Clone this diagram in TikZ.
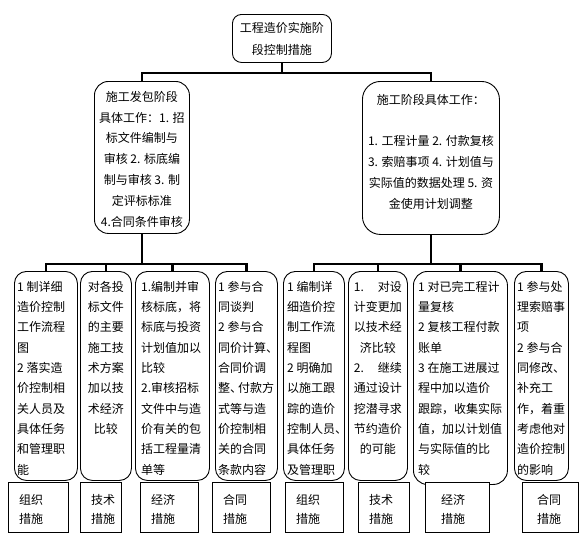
\documentclass[tikz,border=0pt]{standalone}
\usepackage{fontspec}
\setmainfont{Noto Sans CJK SC}
\usetikzlibrary{calc}
\begin{document}
\begin{tikzpicture}[x=1pt,y=-1pt,
  conn/.style={line width=2.8pt, black},
  rbox/.style={draw, line width=0.9pt, rounded corners=12pt, anchor=north west, inner sep=0pt},
  lbox/.style={draw, line width=0.9pt, fill=white, anchor=north west, inner sep=0pt, minimum height=50pt},
  txt/.style={font=\fontsize{12pt}{20.3pt}\selectfont, inner sep=0pt, align=left, anchor=north west},
  ctxt/.style={font=\fontsize{12pt}{20.8pt}\selectfont, inner sep=0pt, align=center, anchor=north},
  ltxt/.style={font=\fontsize{12pt}{19.5pt}\selectfont, inner sep=0pt, align=left, anchor=north west}]
\useasboundingbox (0,0) rectangle (582,539);
\fill[white] (0,0) rectangle (582,539);

% top
\node[rbox, rounded corners=9pt, minimum width=99pt, minimum height=48pt] (top) at (232,14) {};
\node[ctxt, font=\fontsize{12pt}{22pt}\selectfont] (topt) at ($(top.north)+(0,8)$) {工程造价实施阶\\段控制措施};

% middle
\node[rbox, rounded corners=14pt, minimum width=95pt, minimum height=152pt] (mL) at (94,81) {};
\node[ctxt] (mLt) at ($(mL.north)+(0,10)$) {施工发包阶段\\具体工作：1. 招\\标文件编制与\\审核 2. 标底编\\制与审核 3. 制\\定评标标准\\4.合同条件审核};
\node[rbox, rounded corners=18pt, minimum width=137pt, minimum height=153pt] (mR) at (362,81) {};
\node[ctxt] (mRt) at ($(mR.north)+(0,13)$) {施工阶段具体工作：\\[20.8pt]1. 工程计量 2. 付款复核\\3. 索赔事项 4. 计划值与\\实际值的数据处理 5. 资\\金使用计划调整};

% bottom boxes
\node[rbox, minimum width=63pt, minimum height=209pt] (b1) at (14,271) {};
\node[rbox, minimum width=51pt, minimum height=209pt] (b2) at (80,271) {};
\node[rbox, minimum width=74pt, minimum height=209pt] (b3) at (135,271) {};
\node[rbox, minimum width=62pt, minimum height=209pt] (b4) at (215,271) {};
\node[rbox, minimum width=61pt, minimum height=209pt] (b5) at (283,271) {};
\node[rbox, minimum width=59pt, minimum height=209pt] (b6) at (348,271) {};
\node[rbox, rounded corners=14pt, minimum width=94pt, minimum height=213pt] (b7) at (413,271) {};
\node[rbox, minimum width=54pt, minimum height=209pt] (b8) at (514,271) {};

\node[txt] (t1) at ($(b1.north west)+(3,10)$) {1 制详细\\造价控制\\工作流程\\图\\2 落实造\\价控制相\\关人员及\\具体任务\\和管理职\\能};
\node[txt, align=center, anchor=north] (t2) at ($(b2.north)+(0,10)$) {对各投\\标文件\\的主要\\施工技\\术方案\\加以技\\术经济\\比较};
\node[txt] (t3) at ($(b3.north west)+(6,10)$) {1.编制并审\\核标底，将\\标底与投资\\计划值加以\\比较\\2.审核招标\\文件中与造\\价有关的包\\括工程量清\\单等};
\node[txt] (t4) at ($(b4.north west)+(3,10)$) {1 参与合\\同谈判\\2 参与合\\同价计算、\\合同价调\\整、\kern-4pt付款方\\式等与造\\价控制相\\关的合同\\条款内容};
\node[txt] (t5) at ($(b5.north west)+(4,10)$) {1 编制详\\细造价控\\制工作流\\程图\\2 明确加\\以施工跟\\踪的造价\\控制人员、\\具体任务\\及管理职};
\node[txt, align=center, anchor=north, text width=48pt] (t6) at ($(b6.north)+(0,10)$) {\makebox[48pt][s]{1.\hfill 对设}\\计变更加\\以技术经\\济比较\\\makebox[48pt][s]{2.\hfill 继续}\\通过设计\\挖潜寻求\\节约造价\\的可能};
\node[txt] (t7) at ($(b7.north west)+(5,10)$) {1 对已完工程计\\量复核\\2 复核工程付款\\账单\\3 在施工进展过\\程中加以造价\\跟踪，收集实际\\值，加以计划值\\与实际值的比\\较};
\node[txt] (t8) at ($(b8.north west)+(3,10)$) {1 参与处\\理索赔事\\项\\2 参与合\\同修改、\\补充工\\作，着重\\考虑他对\\造价控制\\的影响};

% label boxes
\node[lbox, minimum width=60pt] (l1) at (8,482) {};
\node[lbox, minimum width=41pt] (l2) at (80,482) {};
\node[lbox, minimum width=58pt] (l3) at (140,482) {};
\node[lbox, minimum width=58pt] (l4) at (212,482) {};
\node[lbox, minimum width=58pt] (l5) at (285,482) {};
\node[lbox, minimum width=51pt] (l6) at (358,482) {};
\node[lbox, minimum width=64pt] (l7) at (425,482) {};
\node[lbox, minimum width=56pt] (l8) at (522,482) {};
\node[ltxt] (lt1) at ($(l1.north west)+(11,12)$) {组织\\措施};
\node[ltxt] (lt2) at ($(l2.north west)+(11,12)$) {技术\\措施};
\node[ltxt] (lt3) at ($(l3.north west)+(11,12)$) {经济\\措施};
\node[ltxt] (lt4) at ($(l4.north west)+(11,12)$) {合同\\措施};
\node[ltxt] (lt5) at ($(l5.north west)+(11,12)$) {组织\\措施};
\node[ltxt] (lt6) at ($(l6.north west)+(11,12)$) {技术\\措施};
\node[ltxt] (lt7) at ($(l7.north west)+(16,12)$) {经济\\措施};
\node[ltxt] (lt8) at ($(l8.north west)+(15,12)$) {合同\\措施};

% connectors
\path (top.south) ++(0,10) coordinate (jT);
\path (mL.south) ++(0,30) coordinate (jL);
\path (mR.south) ++(0,29) coordinate (jR);
\draw[conn] (top.south) -- (jT);
\draw[conn] (mL.north) |- (jT) -| (mR.north);
\draw[conn] (mL.south) -- (jL);
\draw[conn] (b1.north) |- (jL) -| (b4.north);
\draw[conn] (b2.north) -- (b2.north |- jL);
\draw[conn] (b3.north) -- (b3.north |- jL);
\draw[conn] (mR.south) -- (jR);
\draw[conn] (b5.north) |- (jR) -| (b8.north);
\draw[conn] (b6.north) -- (b6.north |- jR);
\draw[conn] (b7.north) -- (b7.north |- jR);
\end{tikzpicture}
\end{document}
